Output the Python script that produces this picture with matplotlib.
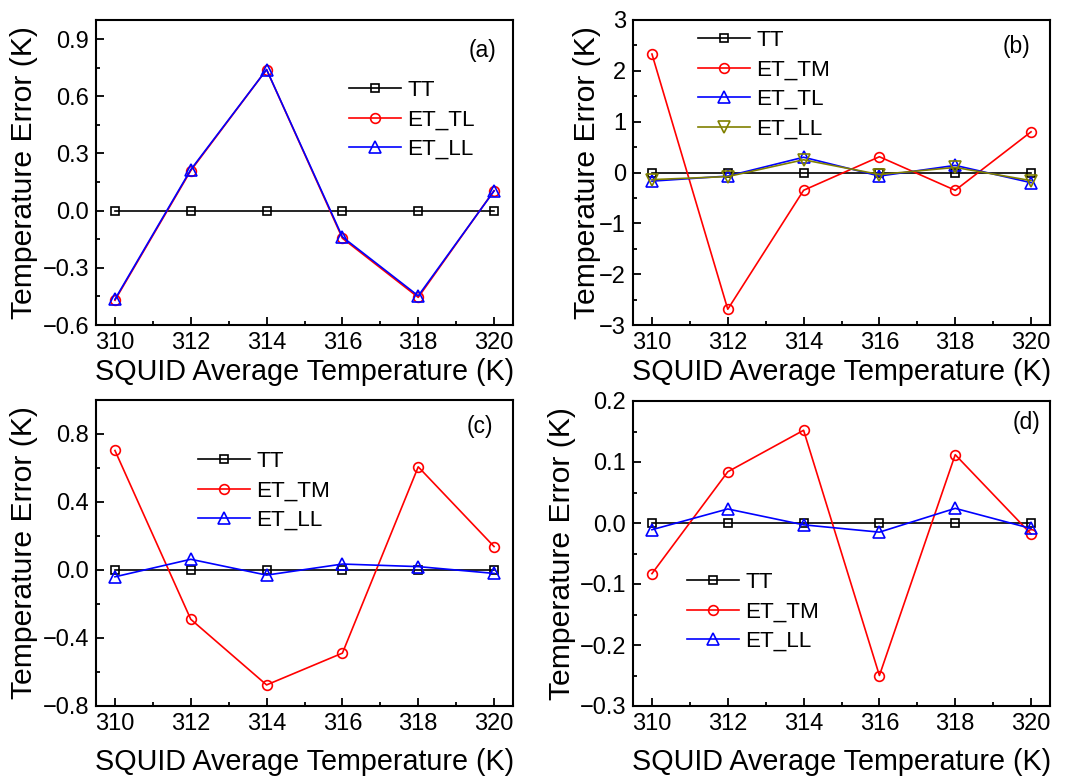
import matplotlib
matplotlib.use('Agg')
import matplotlib.pyplot as plt
from matplotlib.ticker import MultipleLocator

plt.rcParams['font.family'] = ['Liberation Sans', 'DejaVu Sans']

temps = [310, 312, 314, 316, 318, 320]

# panel (a)
a_tt = [0, 0, 0, 0, 0, 0]
a_et_tl = [-0.47, 0.21, 0.74, -0.145, -0.455, 0.105]
a_et_ll = [-0.465, 0.215, 0.74, -0.138, -0.447, 0.103]

# panel (b)
b_tt = [0, 0, 0, 0, 0, 0]
b_et_tm = [2.33, -2.69, -0.35, 0.31, -0.35, 0.80]
b_et_tl = [-0.17, -0.07, 0.30, -0.07, 0.14, -0.20]
b_et_ll = [-0.14, -0.08, 0.25, -0.04, 0.10, -0.16]

# panel (c)
c_tt = [0, 0, 0, 0, 0, 0]
c_et_tm = [0.703, -0.29, -0.676, -0.489, 0.607, 0.138]
c_et_ll = [-0.04, 0.063, -0.03, 0.035, 0.02, -0.02]

# panel (d)
d_tt = [0, 0, 0, 0, 0, 0]
d_et_tm = [-0.083, 0.084, 0.152, -0.25, 0.112, -0.018]
d_et_ll = [-0.011, 0.023, -0.003, -0.015, 0.024, -0.009]

W, H = 1071, 782
fig = plt.figure(figsize=(W / 100, H / 100), dpi=100)


def px_axes(left, top, right, bottom):
    return fig.add_axes([left / W, 1 - bottom / H, (right - left) / W, (bottom - top) / H])


def style(ax, ylim, ymaj, ymin, lab, lab_xy, xlab_y, ylab_x):
    ax.set_xlim(309.5, 320.5)
    ax.set_ylim(*ylim)
    ax.xaxis.set_major_locator(MultipleLocator(2))
    ax.xaxis.set_minor_locator(MultipleLocator(1))
    ax.yaxis.set_major_locator(MultipleLocator(ymaj))
    ax.yaxis.set_minor_locator(MultipleLocator(ymin))
    ax.tick_params(which='both', direction='in', labelsize=17, pad=5, width=1.3)
    ax.tick_params(which='major', length=6)
    ax.tick_params(which='minor', length=3)
    for s in ax.spines.values():
        s.set_linewidth(1.5)
    ax.set_xlabel('SQUID Average Temperature (K)', fontsize=20.7)
    ax.set_ylabel('Temperature Error (K)', fontsize=21.7)
    ax.xaxis.set_label_coords(0.5, xlab_y)
    ax.yaxis.set_label_coords(ylab_x, 0.5)
    ax.text(lab_xy[0], lab_xy[1], lab, transform=ax.transAxes, fontsize=16.5,
            ha='center', va='center')


def legend(ax, x_px, y_px):
    ax.legend(loc='upper left', bbox_to_anchor=(x_px / W, 1 - y_px / H),
              bbox_transform=fig.transFigure, frameon=False, fontsize=16.2,
              borderpad=0, borderaxespad=0, handlelength=2.3, handletextpad=0.3,
              labelspacing=0.38)


kw = dict(lw=1.2, mfc='none', mew=1.2)

# (a)
ax = px_axes(96, 20, 513, 325)
ax.plot(temps, a_tt, color='black', marker='s', ms=6, label='TT', **kw)
ax.plot(temps, a_et_tl, color='red', marker='o', ms=7, label='ET_TL', **kw)
ax.plot(temps, a_et_ll, color='blue', marker='^', ms=8.5, label='ET_LL', **kw)
style(ax, (-0.6, 1.0), 0.3, 0.15, '(a)', ((483 - 96) / 417, (325 - 50) / 305), -0.108, -0.139)
legend(ax, 349, 80)

# (b)
ax = px_axes(633, 20, 1050, 325)
ax.plot(temps, b_tt, color='black', marker='s', ms=6, label='TT', **kw)
ax.plot(temps, b_et_tm, color='red', marker='o', ms=7, label='ET_TM', **kw)
ax.plot(temps, b_et_tl, color='blue', marker='^', ms=8.5, label='ET_TL', **kw)
ax.plot(temps, b_et_ll, color='#808000', marker='v', ms=8.5, label='ET_LL', **kw)
style(ax, (-3, 3), 1, 0.5, '(b)', ((1017 - 633) / 417, (325 - 47) / 305), -0.108, -0.077)
legend(ax, 698, 30)

# (c)
ax = px_axes(96, 400, 513, 706)
ax.plot(temps, c_tt, color='black', marker='s', ms=6, label='TT', **kw)
ax.plot(temps, c_et_tm, color='red', marker='o', ms=7, label='ET_TM', **kw)
ax.plot(temps, c_et_ll, color='blue', marker='^', ms=8.5, label='ET_LL', **kw)
style(ax, (-0.8, 1.0), 0.4, 0.2, '(c)', ((480 - 96) / 417, (706 - 427) / 306), -0.137, -0.139)
legend(ax, 198, 451)

# (d)
ax = px_axes(633, 401, 1050, 706)
ax.plot(temps, d_tt, color='black', marker='s', ms=6, label='TT', **kw)
ax.plot(temps, d_et_tm, color='red', marker='o', ms=7, label='ET_TM', **kw)
ax.plot(temps, d_et_ll, color='blue', marker='^', ms=8.5, label='ET_LL', **kw)
style(ax, (-0.3, 0.2), 0.1, 0.05, '(d)', ((1027 - 633) / 417, (706 - 423) / 305), -0.137, -0.137)
legend(ax, 687, 572)

fig.savefig('out.png', dpi=100)
